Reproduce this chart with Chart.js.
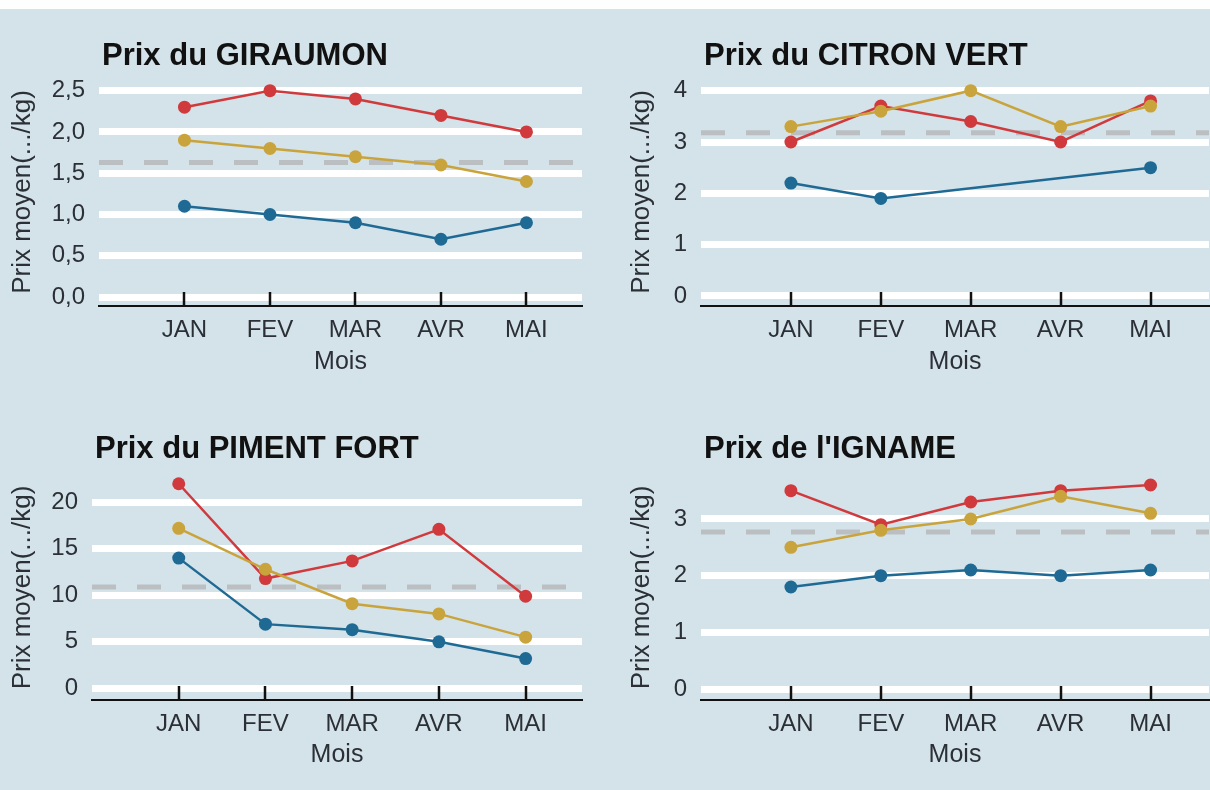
<!DOCTYPE html>
<html lang="fr">
<head>
<meta charset="utf-8">
<script src="https://cdn.jsdelivr.net/npm/chart.js@4.4.1/dist/chart.umd.min.js"></script>
<style>
  html, body { margin: 0; padding: 0; }
  body {
    width: 1210px; height: 790px; overflow: hidden; position: relative;
    background: #d4e2e9; font-family: "Liberation Sans", Arial, sans-serif;
  }
  #strip { position: absolute; left: 0; top: 0; width: 1210px; height: 9px; background: #fdfefe; }
  canvas { position: absolute; }
  #c1 { left: 0; top: 0; }
  #c2 { left: 605px; top: 0; }
  #c3 { left: 0; top: 395px; }
  #c4 { left: 605px; top: 395px; }
</style>
</head>
<body>
<div id="strip"></div>
<canvas id="c1" width="605" height="395"></canvas>
<canvas id="c2" width="620" height="395"></canvas>
<canvas id="c3" width="605" height="395"></canvas>
<canvas id="c4" width="620" height="395"></canvas>
<script>
const months = ["JAN", "FEV", "MAR", "AVR", "MAI"];

// prix max (rouge), moyen (jaune), min (bleu)
const giraumonMax = [2.3, 2.5, 2.4, 2.2, 2.0];
const giraumonMoy = [1.9, 1.8, 1.7, 1.6, 1.4];
const giraumonMin = [1.1, 1.0, 0.9, 0.7, 0.9];

const citronMax = [3.0, 3.7, 3.4, 3.0, 3.8];
const citronMoy = [3.3, 3.6, 4.0, 3.3, 3.7];
const citronMin = [2.2, 1.9, null, null, 2.5];

const pimentMax = [22.0, 11.8, 13.7, 17.1, 9.9];
const pimentMoy = [17.2, 12.8, 9.1, 8.0, 5.5];
const pimentMin = [14.0, 6.9, 6.3, 5.0, 3.2];

const ignameMax = [3.5, 2.9, 3.3, 3.5, 3.6];
const ignameMoy = [2.5, 2.8, 3.0, 3.4, 3.1];
const ignameMin = [1.8, 2.0, 2.1, 2.0, 2.1];

// moyenne generale (ligne pointillee)
const moyennes = [1.63, 3.18, 10.9, 2.77];

const ticksGiraumon = [0, 0.5, 1, 1.5, 2, 2.5];
const ticksCitron = [0, 1, 2, 3, 4];
const ticksPiment = [0, 5, 10, 15, 20];
const ticksIgname = [0, 1, 2, 3];

const RED = "#d03a3c";
const YELLOW = "#c9a43c";
const BLUE = "#1f6a94";
const MEAN = "rgba(184,187,190,0.9)";
const FONT = '"Liberation Sans", Arial, sans-serif';

const X_MIN = -1.0;
const X_MAX = 4.65;

// Title drawn aligned on the plot's left edge
const panelTitle = {
  id: "panelTitle",
  afterDraw(chart, args, opts) {
    const ctx = chart.ctx;
    ctx.save();
    ctx.font = `bold 31px ${FONT}`;
    ctx.fillStyle = "#111";
    ctx.textBaseline = "alphabetic";
    ctx.textAlign = "left";
    ctx.fillText(opts.text, chart.chartArea.left + 3, opts.y);
    ctx.restore();
  },
};

// Small black tick marks pointing up from the x axis line
const innerTicks = {
  id: "innerTicks",
  afterDatasetsDraw(chart) {
    const ctx = chart.ctx;
    const xs = chart.scales.x;
    const bottom = chart.chartArea.bottom;
    ctx.save();
    ctx.strokeStyle = "#111";
    ctx.lineWidth = 2.5;
    xs.ticks.forEach((t) => {
      const px = Math.round(xs.getPixelForValue(t.value));
      ctx.beginPath();
      ctx.moveTo(px, bottom);
      ctx.lineTo(px, bottom - 14);
      ctx.stroke();
    });
    ctx.restore();
  },
};

function toPoints(values) {
  return values.map((v, i) => ({ x: i, y: v }));
}

function series(values, color, order) {
  return {
    data: toPoints(values),
    borderColor: color,
    backgroundColor: color,
    borderWidth: 2.5,
    pointRadius: 6.5,
    pointBorderWidth: 0,
    pointHoverRadius: 6.5,
    spanGaps: true,
    order: order,
  };
}

function makePanel(id, p) {
  new Chart(document.getElementById(id), {
    type: "line",
    data: {
      datasets: [
        {
          data: [{ x: X_MIN, y: p.mean }, { x: X_MAX, y: p.mean }],
          borderColor: MEAN,
          borderWidth: 5,
          borderDash: [24, 21],
          pointRadius: 0,
          order: 10,
        },
        series(p.min, BLUE, 3),
        series(p.max, RED, 2),
        series(p.moy, YELLOW, 1),
      ],
    },
    options: {
      responsive: false,
      devicePixelRatio: 1,
      animation: false,
      layout: { padding: { top: p.top, right: p.right, bottom: p.bottom, left: 0 } },
      plugins: {
        legend: { display: false },
        tooltip: { enabled: false },
        panelTitle: { text: p.title, y: p.titleY },
      },
      scales: {
        x: {
          type: "linear",
          min: X_MIN,
          max: X_MAX,
          afterBuildTicks: (scale) => {
            scale.ticks = months.map((m, i) => ({ value: i }));
          },
          afterFit: (scale) => {
            scale.height = p.xHeight;
          },
          grid: { display: false, drawTicks: false },
          border: { display: true, color: "#111", width: 2 },
          ticks: {
            padding: 10,
            color: "#2b2f36",
            font: { family: FONT, size: 24 },
            maxRotation: 0,
            autoSkip: false,
            callback: (v) => months[v] ?? "",
          },
          title: {
            display: true,
            text: "Mois",
            color: "#2b2f36",
            font: { family: FONT, size: 25 },
            padding: 0,
          },
        },
        y: {
          min: p.yMin,
          max: p.yMax,
          afterBuildTicks: (scale) => {
            scale.ticks = p.ticks.map((v) => ({ value: v }));
          },
          afterFit: (scale) => {
            scale.width = p.yWidth;
          },
          grid: { color: "#ffffff", lineWidth: 7, drawTicks: false },
          border: { display: false },
          ticks: {
            padding: 14,
            color: "#2b2f36",
            font: { family: FONT, size: 24 },
            callback: p.fmt,
          },
          title: {
            display: true,
            text: "Prix moyen(.../kg)",
            color: "#2b2f36",
            font: { family: FONT, size: 26 },
            padding: { top: p.yTitlePad, bottom: 0 },
          },
        },
      },
    },
    plugins: [panelTitle, innerTicks],
  });
}

const comma = (v) => v.toFixed(1).replace(".", ",");
const plain = (v) => String(v);

makePanel("c1", {
  title: "Prix du GIRAUMON", titleY: 65,
  max: giraumonMax, moy: giraumonMoy, min: giraumonMin, mean: moyennes[0],
  ticks: ticksGiraumon, fmt: comma, yMin: -0.109, yMax: 2.654,
  top: 78, right: 23, bottom: 18, xHeight: 71, yWidth: 99, yTitlePad: 7,
});

makePanel("c2", {
  title: "Prix du CITRON VERT", titleY: 65,
  max: citronMax, moy: citronMoy, min: citronMin, mean: moyennes[1],
  ticks: ticksCitron, fmt: plain, yMin: -0.195, yMax: 4.247,
  top: 78, right: 16, bottom: 18, xHeight: 71, yWidth: 96, yTitlePad: 21,
});

makePanel("c3", {
  title: "Prix du PIMENT FORT", titleY: 63,
  max: pimentMax, moy: pimentMoy, min: pimentMin, mean: moyennes[2],
  ticks: ticksPiment, fmt: plain, yMin: -1.26, yMax: 22.94,
  top: 80, right: 23, bottom: 20, xHeight: 70, yWidth: 92, yTitlePad: 7,
});

makePanel("c4", {
  title: "Prix de l'IGNAME", titleY: 63,
  max: ignameMax, moy: ignameMoy, min: ignameMin, mean: moyennes[3],
  ticks: ticksIgname, fmt: plain, yMin: -0.194, yMax: 3.776,
  top: 80, right: 16, bottom: 20, xHeight: 70, yWidth: 96, yTitlePad: 21,
});
</script>
</body>
</html>
